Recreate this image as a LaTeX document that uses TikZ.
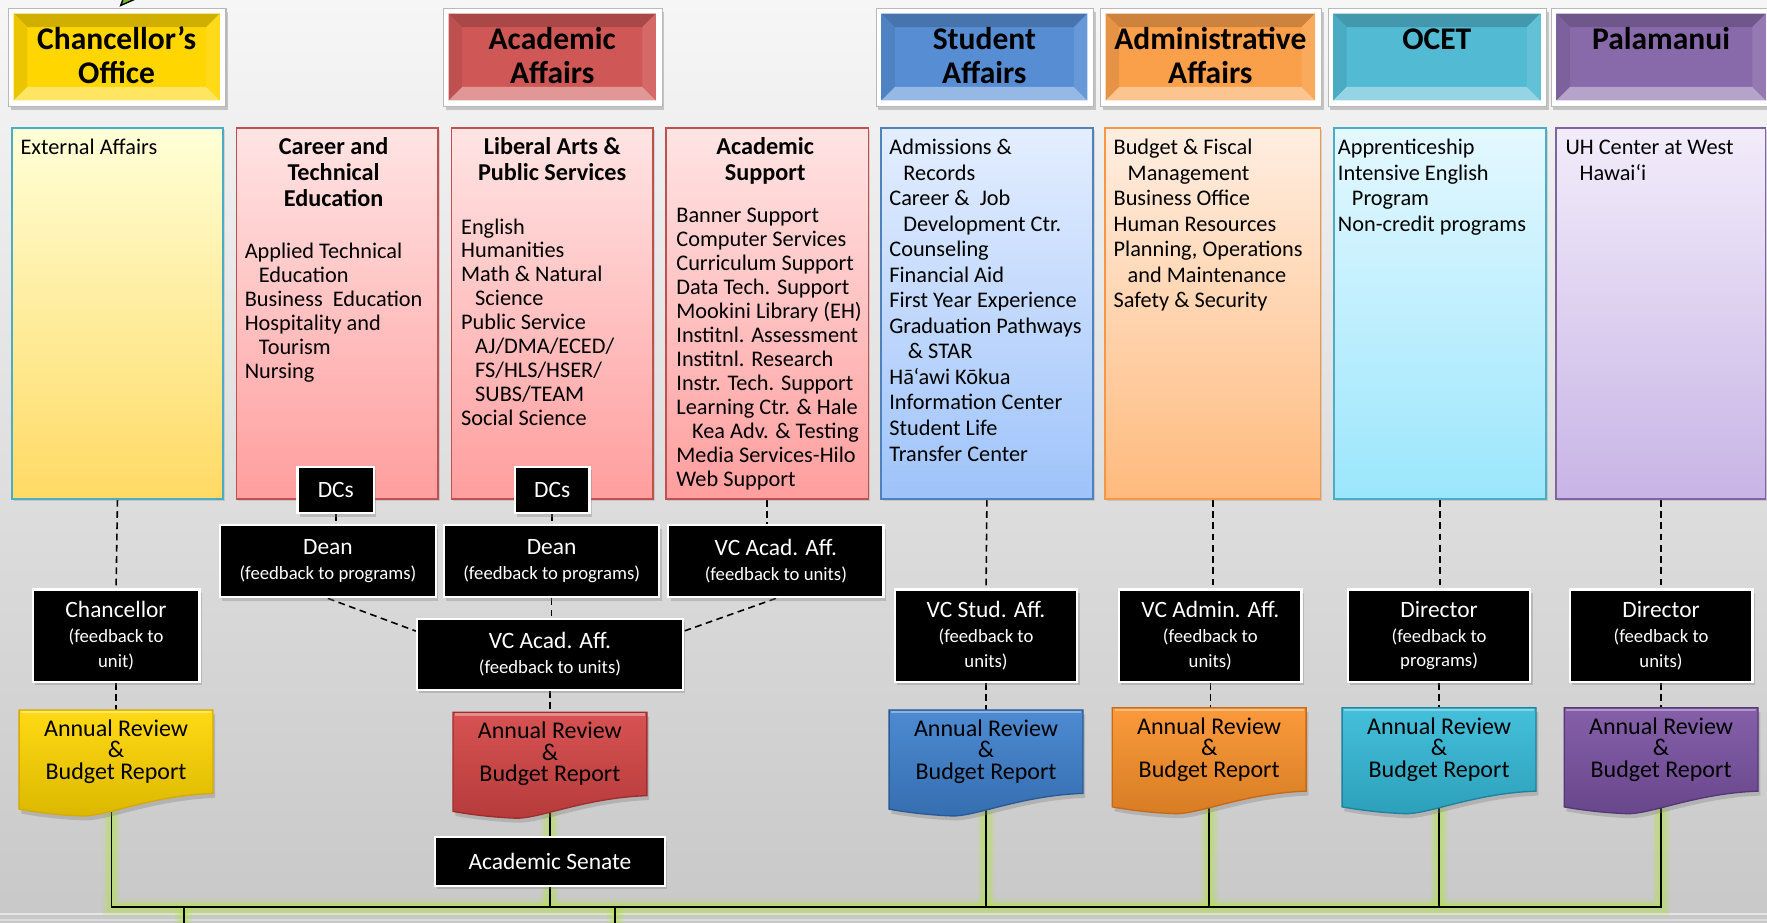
\documentclass[tikz,border=0pt]{standalone}
\usepackage{fontspec}
\setmainfont{Carlito}
\usetikzlibrary{shadows,arrows.meta}
\pgfdeclarelayer{back}
\pgfdeclarelayer{conn}
\pgfsetlayers{back,conn,main}
\newcommand\fs[2]{\fontsize{#1}{#2}\selectfont}
\newcommand\ind[1][12.5pt]{\hspace*{#1}}

\definecolor{bgT}{RGB}{246,246,246}
\definecolor{bgB}{RGB}{200,200,200}
\definecolor{hYel}{RGB}{255,214,0}
\definecolor{hRed}{RGB}{207,88,86}
\definecolor{hBlu}{RGB}{86,141,211}
\definecolor{hOra}{RGB}{250,160,75}
\definecolor{hCya}{RGB}{82,186,211}
\definecolor{hPur}{RGB}{136,106,170}
\definecolor{cYelT}{RGB}{255,255,215}
\definecolor{cYelB}{RGB}{255,218,100}
\definecolor{cPnkT}{RGB}{255,228,228}
\definecolor{cPnkB}{RGB}{255,158,158}
\definecolor{cBluT}{RGB}{228,238,255}
\definecolor{cBluB}{RGB}{158,195,250}
\definecolor{cOraT}{RGB}{255,238,225}
\definecolor{cOraB}{RGB}{255,186,125}
\definecolor{cCyaT}{RGB}{228,248,255}
\definecolor{cCyaB}{RGB}{155,230,252}
\definecolor{cPurT}{RGB}{242,236,250}
\definecolor{cPurB}{RGB}{200,180,230}
\definecolor{bTeal}{RGB}{75,172,198}
\definecolor{bRed}{RGB}{192,80,77}
\definecolor{bBlu}{RGB}{79,129,189}
\definecolor{bOra}{RGB}{247,150,70}
\definecolor{bPur}{RGB}{128,100,162}
\definecolor{dYel}{RGB}{255,214,0}
\definecolor{dYelB}{RGB}{215,170,0}
\definecolor{dRed}{RGB}{212,68,68}
\definecolor{dRedB}{RGB}{160,45,45}
\definecolor{dBlu}{RGB}{62,128,205}
\definecolor{dBluB}{RGB}{40,90,150}
\definecolor{dOra}{RGB}{250,145,42}
\definecolor{dOraB}{RGB}{200,105,20}
\definecolor{dCya}{RGB}{52,186,216}
\definecolor{dCyaB}{RGB}{30,130,160}
\definecolor{dPur}{RGB}{122,82,162}
\definecolor{dPurB}{RGB}{85,55,120}
\definecolor{glowG}{RGB}{178,228,70}
\definecolor{arrG}{RGB}{110,190,40}

\tikzset{
  hdrframe/.style={draw=gray!55, fill=white, line width=1, inner sep=0,
    drop shadow={shadow xshift=2pt, shadow yshift=-3pt, opacity=0.4}},
  hdrtext/.style={anchor=north, inner sep=0, align=center, font=\bfseries\fs{28}{30}},
  cbox/.style={line width=1.5, anchor=north west, minimum height=329, inner sep=0,
    drop shadow={shadow xshift=1.5pt, shadow yshift=-2pt, opacity=0.25}},
  bodytext/.style={anchor=north west, inner sep=0, align=left, font=\fs{19.8}{22.67}},
  bodytextb/.style={anchor=north west, inner sep=0, align=left, font=\fs{19.8}{21.25}},
  titletext/.style={anchor=north, inner sep=0, align=center, font=\bfseries\fs{21.5}{23}},
  bbox/.style={fill=black, draw=white, line width=2, text=white, inner sep=0,
    align=center, font=\fs{20.8}{22},
    drop shadow={shadow xshift=2pt, shadow yshift=-3pt, opacity=0.35}},
  subline/.style={font=\fs{16.6}{22}},
  doctext/.style={inner sep=0, align=center, font=\fs{21.3}{19}},
  docshadow/.style={drop shadow={shadow xshift=2pt, shadow yshift=-4pt, opacity=0.35}},
  dsh/.style={dash pattern=on 6pt off 4pt, line width=1.4},
  sol/.style={line width=1.6},
  glowa/.style={line width=15, color=glowG, opacity=0.18},
  glowb/.style={line width=10, color=glowG, opacity=0.25},
  glowc/.style={line width=5, color=glowG, opacity=0.35}
}

% header button: name, x1, x2, colour, text
\newcommand\mkhead[5]{%
  \node[hdrframe, anchor=north west, minimum width={#3-#2}, minimum height=87] (#1) at (#2,7) {};
  \fill[#4] (#2+5,12) rectangle (#3-5,89);
  \fill[#4!82!black] (#2+5,12) -- (#3-5,12) -- (#3-17,24) -- (#2+17,24) -- cycle;
  \fill[#4!62!white] (#2+5,89) -- (#3-5,89) -- (#3-17,77) -- (#2+17,77) -- cycle;
  \fill[#4!92!black] (#2+5,12) -- (#2+17,24) -- (#2+17,77) -- (#2+5,89) -- cycle;
  \fill[#4!90!white] (#3-5,12) -- (#3-17,24) -- (#3-17,77) -- (#3-5,89) -- cycle;
  \node[hdrtext] (#1T) at ({(#2+#3)/2},23) {\strut #5};
}
% document shape: name, cx, ytop, fill, border
\newcommand\mkdoc[5]{%
  \path[draw=#5, line width=1.2, top color=#4!92!white, bottom color=#4!86!black, docshadow]
    (#2-86,#3) -- (#2+86,#3) -- (#2+86,#3+74)
    .. controls (#2+30,#3+76) and (#2-10,#3+95) .. (#2-31,#3+94)
    .. controls (#2-55,#3+93) and (#2-75,#3+90) .. (#2-86,#3+88) -- cycle;
  \draw[white, opacity=0.35, line width=2] (#2-84,#3+2) -- (#2+84,#3+2);
  \node[doctext] (#1) at (#2,#3+37) {Annual Review\\\&\\Budget Report};
  \coordinate (#1t) at (#2,#3);
  \coordinate (#1b) at (#2,#3+80);
}

\begin{document}
\begin{tikzpicture}[x=1pt,y=-1pt]
\useasboundingbox (0,0) rectangle (1568,819);
\begin{pgfonlayer}{back}
  \shade[top color=bgT, bottom color=bgB] (0,0) rectangle (1568,819);
  \draw[white, opacity=0.55, line width=2.5] (0,811) -- (1568,811);
  \draw[white, opacity=0.35, line width=2] (0,816.5) -- (1568,816.5);
\end{pgfonlayer}

% ---------- headers ----------
\mkhead{hC}{7}{200}{hYel}{Chancellor’s\\Office}
\mkhead{hA}{393}{587}{hRed}{Academic\\Affairs}
\mkhead{hS}{777}{970}{hBlu}{Student\\Affairs}
\mkhead{hD}{976}{1172}{hOra}{Administrative\\Affairs}
\mkhead{hO}{1178}{1372}{hCya}{OCET}
\mkhead{hP}{1376}{1572}{hPur}{Palamanui}

% ---------- content boxes ----------
\node[cbox, top color=cYelT, bottom color=cYelB, draw=bTeal, minimum width=187] (ext) at (10,113) {};
\node[cbox, top color=cPnkT, bottom color=cPnkB, draw=bRed, minimum width=179] (cte) at (209,113) {};
\node[cbox, top color=cPnkT, bottom color=cPnkB, draw=bRed, minimum width=179] (lib) at (400,113) {};
\node[cbox, top color=cPnkT, bottom color=cPnkB, draw=bRed, minimum width=180] (acs) at (590,113) {};
\node[cbox, top color=cBluT, bottom color=cBluB, draw=bBlu, minimum width=188] (stu) at (781,113) {};
\node[cbox, top color=cOraT, bottom color=cOraB, draw=bOra, minimum width=191] (adm) at (980,113) {};
\node[cbox, top color=cCyaT, bottom color=cCyaB, draw=bTeal, minimum width=188] (oce) at (1183,113) {};
\node[cbox, top color=cPurT, bottom color=cPurB, draw=bPur, minimum width=186] (pal) at (1380,113) {};

\node[bodytext] (extT) at (18,121) {\strut External Affairs};

\node[titletext] (cteH) at (296,121) {\strut Career and\\Technical\\Education};
\node[bodytextb] (cteT) at (217,214.6) {\strut Applied Technical\\\ind Education\\Business~ Education\\Hospitality and\\\ind Tourism\\Nursing};

\node[titletext] (libH) at (490,121) {\strut Liberal Arts \&\\Public Services};
\node[bodytextb] (libT) at (409,192.6) {\strut English\\Humanities\\Math \& Natural\\\ind Science\\Public Service\\\ind AJ/DMA/ECED/\\\ind FS/HLS/HSER/\\\ind SUBS/TEAM\\Social Science};

\node[titletext] (acsH) at (679,121) {\strut Academic\\Support};
\node[bodytextb] (acsT) at (600,182.6) {\strut Banner Support\\Computer Services\\Curriculum Support\\Data Tech. Support\\Mookini Library (EH)\\Institnl. Assessment\\Institnl. Research\\Instr. Tech. Support\\Learning Ctr. \& Hale\\\ind[14pt]Kea Adv. \& Testing\\Media Services-Hilo\\Web Support};

\node[bodytext] (stuT) at (789,121) {\strut Admissions \&\\\ind Records\\Career \&~ Job\\\ind Development Ctr.\\Counseling\\Financial Aid\\First Year Experience\\Graduation Pathways\\\ind[16.5pt]\& STAR\\Hā‘awi Kōkua\\Information Center\\Student Life\\Transfer Center};

\node[bodytext] (admT) at (988,121) {\strut Budget \& Fiscal\\\ind Management\\Business Office\\Human Resources\\Planning, Operations\\\ind and Maintenance\\Safety \& Security};

\node[bodytext] (oceT) at (1187,121) {\strut Apprenticeship\\Intensive English\\\ind Program\\Non-credit programs};

\node[bodytext] (palT) at (1389,121) {\strut UH Center at West\\\ind Hawai‘i};

% ---------- black boxes ----------
\node[bbox, minimum width=68, minimum height=41] (dc1) at (298,435) {DCs};
\node[bbox, minimum width=66, minimum height=41] (dc2) at (490,435) {DCs};
\node[bbox, minimum width=192, minimum height=64] (dean1) at (291,498) {Dean\\{\fs{16.6}{22}(feedback to programs)}};
\node[bbox, minimum width=191, minimum height=64] (dean2) at (489.5,498) {Dean\\{\fs{16.6}{22}(feedback to programs)}};
\node[bbox, minimum width=191, minimum height=64] (vcu) at (688.5,498) {VC Acad. Aff.\\{\fs{16.6}{22}(feedback to units)}};
\node[bbox, minimum width=236, minimum height=63] (vcl) at (488,580.5) {VC Acad. Aff.\\{\fs{16.6}{22}(feedback to units)}};
\node[bbox, minimum width=148, minimum height=82] (chan) at (103,564) {Chancellor\\{\fs{16.6}{22}(feedback to}\\{\fs{16.6}{22}unit)}};
\node[bbox, minimum width=162, minimum height=82] (vcs) at (875,564) {VC Stud. Aff.\\{\fs{16.6}{22}(feedback to}\\{\fs{16.6}{22}units)}};
\node[bbox, minimum width=162, minimum height=82] (vca) at (1074,564) {VC Admin. Aff.\\{\fs{16.6}{22}(feedback to}\\{\fs{16.6}{22}units)}};
\node[bbox, minimum width=162, minimum height=82] (dir1) at (1277,564) {Director\\{\fs{16.6}{22}(feedback to}\\{\fs{16.6}{22}programs)}};
\node[bbox, minimum width=162, minimum height=82] (dir2) at (1474,564) {Director\\{\fs{16.6}{22}(feedback to}\\{\fs{16.6}{22}units)}};
\node[bbox, minimum width=204, minimum height=43] (sen) at (488,764.5) {Academic Senate};

% ---------- annual review documents ----------
\mkdoc{arY}{103}{630}{dYel}{dYelB}
\mkdoc{arR}{488}{632}{dRed}{dRedB}
\mkdoc{arB}{875}{630}{dBlu}{dBluB}
\mkdoc{arO}{1073}{628}{dOra}{dOraB}
\mkdoc{arC}{1277}{628}{dCya}{dCyaB}
\mkdoc{arP}{1474}{628}{dPur}{dPurB}

% ---------- connectors ----------
\coordinate (busL) at (99,805);
\coordinate (busR) at (1474,805);
\coordinate (stub1) at (163,822);
\coordinate (stub2) at (546,822);
\coordinate (arrTail) at (150,-40);
\coordinate (arrTip) at (106,6);

\begin{pgfonlayer}{conn}
  % soft glow under the solid lines
  \foreach \g in {glowa,glowb,glowc}{
    \draw[\g] ([xshift=-4pt]arYb) -- (busL) -- (busR) -- (arPb);
    \draw[\g] (arRb) -- (sen.north);
    \draw[\g] (sen.south) -- (sen.south |- busL);
    \draw[\g] (arBb) -- (arBb |- busL);
    \draw[\g] (arOb) -- (arOb |- busL);
    \draw[\g] (arCb) -- (arCb |- busL);
    \draw[\g] (stub1 |- busL) -- (stub1);
    \draw[\g] (stub2 |- busL) -- (stub2);
  }
  % solid lines
  \draw[sol] ([xshift=-4pt]arYb) -- (busL) -- (busR) -- (arPb);
  \draw[sol] (arRb) -- (sen.north);
  \draw[sol] (sen.south) -- (sen.south |- busL);
  \draw[sol] (arBb) -- (arBb |- busL);
  \draw[sol] (arOb) -- (arOb |- busL);
  \draw[sol] (arCb) -- (arCb |- busL);
  \draw[sol] (stub1 |- busL) -- (stub1);
  \draw[sol] (stub2 |- busL) -- (stub2);
  % dashed lines
  \draw[dsh] (ext.south) -- (chan.north);
  \draw[dsh] (chan.south) -- (arYt);
  \draw[dsh] (dc1.south) -- (dc1.south |- dean1.north);
  \draw[dsh] (dc2.south) -- (dc2.south |- dean2.north);
  \draw[dsh] (acs.south) -- (acs.south |- vcu.north);
  \draw[dsh] (dean1.south) -- ([yshift=-12pt]vcl.north west);
  \draw[dsh] (dean2.south) -- (dean2.south |- vcl.north);
  \draw[dsh] (vcu.south) -- ([yshift=-12pt]vcl.north east);
  \draw[dsh] (vcl.south) -- (arRt);
  \draw[dsh] (stu.south) -- (vcs.north);
  \draw[dsh] (vcs.south) -- (arBt);
  \draw[dsh] (adm.south) -- (adm.south |- vca.north);
  \draw[dsh] (vca.south) -- (vca.south |- arOt);
  \draw[dsh] (oce.south) -- (oce.south |- dir1.north);
  \draw[dsh] (dir1.south) -- (dir1.south |- arCt);
  \draw[dsh] (pal.south) -- (pal.south |- dir2.north);
  \draw[dsh] (dir2.south) -- (dir2.south |- arPt);
\end{pgfonlayer}

% arrow tip entering at the top
\draw[line width=1.2, -{Triangle[length=16pt, width=13pt, fill=arrG]}] (arrTail) -- (arrTip);
\end{tikzpicture}
\end{document}
